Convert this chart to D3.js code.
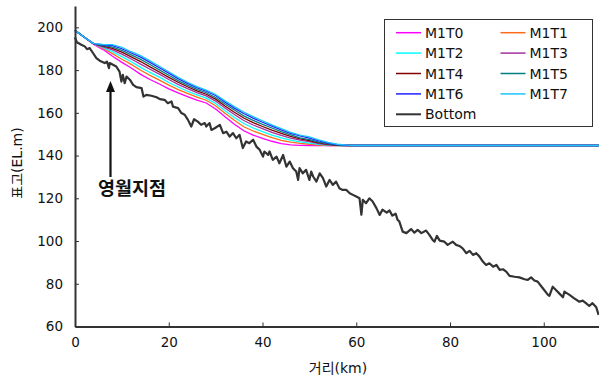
<!DOCTYPE html>
<html>
<head>
<meta charset="utf-8">
<script src="https://cdn.jsdelivr.net/npm/d3@7"></script>
<style>
  body { margin: 0; background: #fff; }
  svg { display: block; font-family: "DejaVu Sans", "Noto Sans CJK KR", sans-serif; }
</style>
</head>
<body>
<svg id="chart" width="599" height="385"></svg>
<script>
// water surface profiles, elevation (EL.m) at each station (km)
const surfKm = [0, 2, 4, 6, 8, 10, 12, 14, 16, 18, 20, 22, 24, 26, 28, 30, 32, 34, 36, 38, 40, 42, 44, 46, 48, 50, 52, 54, 56, 58, 60, 112];
const M1T0 = [198.6, 195.4, 192.0, 189.6, 186.5, 183.6, 181.0, 178.0, 175.6, 173.5, 171.2, 169.3, 167.6, 166.0, 164.6, 161.8, 158.2, 154.7, 151.6, 149.6, 148.1, 146.7, 145.6, 145.0, 144.8, 144.7, 144.7, 144.7, 144.7, 144.7, 144.7, 144.7];
const M1T1 = [198.6, 195.4, 192.1, 190.1, 187.7, 185.1, 182.7, 179.9, 177.5, 175.3, 173.0, 170.9, 169.1, 167.4, 165.9, 163.3, 159.8, 156.5, 153.5, 151.5, 149.9, 148.4, 147.1, 146.3, 145.7, 145.3, 144.9, 144.7, 144.7, 144.7, 144.7, 144.7];
const M1T2 = [198.6, 195.4, 192.2, 190.5, 188.6, 186.3, 183.9, 181.3, 178.9, 176.7, 174.2, 172.1, 170.1, 168.4, 166.9, 164.4, 161.0, 157.8, 155.0, 152.9, 151.2, 149.6, 148.3, 147.2, 146.4, 145.8, 145.2, 144.9, 144.7, 144.7, 144.7, 144.7];
const M1T3 = [198.6, 195.4, 192.2, 190.9, 189.5, 187.5, 185.2, 182.8, 180.4, 178.1, 175.6, 173.3, 171.3, 169.5, 167.9, 165.5, 162.3, 159.2, 156.4, 154.3, 152.6, 150.9, 149.5, 148.2, 147.2, 146.5, 145.6, 145.0, 144.8, 144.7, 144.7, 144.7];
const M1T4 = [198.6, 195.4, 192.3, 191.2, 190.2, 188.4, 186.2, 184.0, 181.5, 179.1, 176.6, 174.3, 172.2, 170.3, 168.7, 166.4, 163.2, 160.3, 157.6, 155.4, 153.6, 151.9, 150.4, 149.0, 147.8, 147.0, 145.9, 145.2, 144.8, 144.7, 144.7, 144.7];
const M1T5 = [198.6, 195.4, 192.3, 191.5, 190.8, 189.2, 187.1, 185.0, 182.6, 180.1, 177.6, 175.1, 173.0, 171.0, 169.4, 167.2, 164.1, 161.3, 158.6, 156.5, 154.6, 152.9, 151.2, 149.7, 148.3, 147.5, 146.3, 145.5, 145.0, 144.7, 144.7, 144.7];
const M1T6 = [198.6, 195.4, 192.4, 191.8, 191.5, 190.0, 188.0, 186.1, 183.6, 181.1, 178.6, 176.0, 173.8, 171.8, 170.1, 168.1, 165.0, 162.2, 159.7, 157.5, 155.6, 153.8, 152.0, 150.4, 149.2, 148.2, 146.9, 145.8, 145.1, 144.8, 144.7, 144.7];
const M1T7 = [198.6, 195.4, 192.4, 192.0, 191.9, 190.6, 188.6, 186.8, 184.3, 181.8, 179.2, 176.6, 174.3, 172.3, 170.6, 168.6, 165.6, 162.9, 160.4, 158.2, 156.2, 154.4, 152.6, 150.9, 149.6, 148.7, 147.4, 146.2, 145.3, 144.9, 144.7, 144.7];

// river bed profile
const bedKm = [0, 0.4, 1.35, 2.07, 2.57, 3.13, 3.84, 4.56, 5.27, 6.33, 6.82, 7.25, 7.4, 8.1, 8.8, 9.5, 9.9, 10.2, 10.6, 11.0, 11.7, 12.4, 13.1, 14.2, 14.6, 15.2, 16.3, 17.4, 18.1, 19.1, 19.8, 20.6, 20.9, 22.0, 22.7, 23.4, 24.1, 24.8, 25.4, 26.2, 26.9, 27.7, 28.0, 28.7, 29.1, 29.8, 30.9, 31.6, 32.3, 33.0, 33.7, 34.4, 35.1, 35.8, 36.5, 37.2, 38.0, 38.7, 39.4, 40.1, 40.4, 41.2, 41.5, 42.2, 43.0, 43.6, 44.4, 45.1, 45.8, 46.5, 47.2, 47.6, 47.9, 48.6, 49.3, 50.0, 50.4, 50.8, 51.5, 52.2, 52.9, 53.6, 54.3, 55.0, 55.7, 56.4, 57.1, 57.9, 58.6, 59.3, 60.0, 60.7, 61.1, 61.4, 62.1, 62.8, 63.5, 64.3, 65.0, 65.6, 66.5, 67.1, 67.7, 68.4, 68.8, 69.2, 69.9, 70.7, 71.7, 72.4, 73.1, 73.9, 74.9, 75.6, 76.3, 76.7, 77.2, 77.8, 78.8, 79.5, 80.6, 81.3, 82.0, 82.7, 83.5, 84.2, 84.9, 85.6, 86.3, 87.0, 87.7, 88.4, 89.2, 89.9, 90.6, 91.3, 92.0, 92.7, 93.8, 94.8, 95.9, 96.6, 97.3, 98.0, 98.7, 99.8, 100.9, 101.2, 101.9, 102.6, 103.3, 104.1, 104.4, 105.5, 106.5, 107.6, 108.3, 109.0, 109.7, 110.4, 111.2, 111.7];
const bedElev = [195.3, 193.0, 191.9, 191.1, 189.8, 190.3, 188.0, 185.6, 184.4, 183.3, 184.0, 180.9, 183.3, 182.5, 181.7, 179.3, 174.6, 177.8, 173.9, 177.0, 175.5, 173.1, 172.0, 171.6, 167.6, 168.4, 168.0, 167.3, 166.4, 166.1, 164.5, 165.3, 162.9, 162.2, 159.9, 159.1, 156.7, 153.6, 157.0, 155.9, 154.4, 155.2, 153.6, 155.2, 152.0, 152.8, 154.4, 150.5, 151.2, 148.9, 150.5, 148.1, 149.7, 143.5, 146.6, 145.8, 147.4, 144.2, 142.7, 139.5, 141.9, 140.3, 141.9, 138.0, 139.5, 136.4, 140.3, 134.8, 137.2, 134.1, 132.5, 128.6, 134.1, 131.7, 133.3, 128.6, 132.5, 130.2, 127.8, 131.7, 129.4, 125.5, 128.6, 126.3, 127.8, 124.7, 123.9, 123.9, 122.4, 121.6, 120.8, 120.0, 112.3, 119.3, 117.7, 120.0, 118.5, 115.4, 112.2, 114.7, 113.3, 114.3, 111.9, 112.8, 110.0, 109.1, 104.4, 103.7, 105.6, 103.9, 105.2, 103.7, 104.9, 102.9, 100.5, 99.7, 102.4, 100.2, 99.7, 98.2, 99.7, 98.2, 97.7, 96.6, 94.3, 95.4, 93.5, 94.3, 92.7, 90.4, 88.8, 89.6, 88.0, 88.8, 86.5, 86.8, 85.7, 83.7, 83.3, 83.0, 82.1, 81.8, 83.0, 81.5, 81.0, 77.9, 74.8, 74.3, 78.6, 77.1, 75.5, 73.7, 76.3, 74.8, 73.2, 71.6, 72.1, 70.9, 69.6, 70.9, 69.0, 65.4];

const seriesNames = ["M1T0", "M1T1", "M1T2", "M1T3", "M1T4", "M1T5", "M1T6", "M1T7"];
const seriesValues = [M1T0, M1T1, M1T2, M1T3, M1T4, M1T5, M1T6, M1T7];
const seriesColors = ["#ff00ff", "#ff6a1a", "#00ffff", "#a033a0", "#800000", "#008080", "#2020ff", "#1ac6ff"];

const xTicks = [0, 20, 40, 60, 80, 100];
const yTicks = [60, 80, 100, 120, 140, 160, 180, 200];

const svg = d3.select("#chart");
const ink = "#333";

const x = d3.scaleLinear().domain([0, 112]).range([75, 600]);
const y = d3.scaleLinear().domain([60, 210]).range([326.5, 6]);

const line = d3.line().x(d => x(d[0])).y(d => y(d[1]));

// bed first, water surfaces on top
svg.append("path")
  .datum(bedKm.map((k, i) => [k, bedElev[i]]))
  .attr("fill", "none")
  .attr("stroke", ink)
  .attr("stroke-width", 2.2)
  .attr("stroke-linejoin", "round")
  .attr("d", line);

seriesValues.forEach((vals, i) => {
  svg.append("path")
    .datum(surfKm.map((k, j) => [k, vals[j]]))
    .attr("fill", "none")
    .attr("stroke", seriesColors[i])
    .attr("stroke-width", 1.3)
    .attr("d", line);
});

// axes, ticks point inward
const xAxis = svg.append("g")
  .attr("transform", `translate(0,${y(60)})`)
  .call(d3.axisBottom(x).tickValues(xTicks).tickSizeInner(-4).tickSizeOuter(0).tickPadding(11));
const yAxis = svg.append("g")
  .attr("transform", `translate(${x(0)},0)`)
  .call(d3.axisLeft(y).tickValues(yTicks).tickSizeInner(-4).tickSizeOuter(0).tickPadding(12));

[xAxis, yAxis].forEach(g => {
  g.select(".domain").attr("stroke", ink).attr("stroke-width", 2);
  g.selectAll(".tick line").attr("stroke", ink).attr("stroke-width", 1);
  g.selectAll(".tick text").attr("fill", "#111").style("font-size", "13.5px").style("font-family", "DejaVu Sans");
});

svg.append("text")
  .attr("x", 338).attr("y", 373)
  .attr("text-anchor", "middle")
  .style("font-size", "14px")
  .attr("fill", "#111")
  .text("거리(km)");

svg.append("text")
  .attr("transform", "translate(22,163) rotate(-90)")
  .attr("text-anchor", "middle")
  .style("font-size", "14px")
  .attr("fill", "#111")
  .text("표고(EL.m)");

// annotation arrow
svg.append("line")
  .attr("x1", 110.5).attr("y1", 177)
  .attr("x2", 110.5).attr("y2", 90)
  .attr("stroke", "#111").attr("stroke-width", 2.2);
svg.append("path")
  .attr("d", "M110.5,81 L106,92 L115,92 Z")
  .attr("fill", "#111");
svg.append("text")
  .attr("x", 132).attr("y", 195)
  .attr("text-anchor", "middle")
  .style("font-size", "18.5px")
  .style("font-weight", "bold")
  .attr("fill", "#111")
  .text("영월지점");

// legend
const legend = svg.append("g");
legend.append("rect")
  .attr("x", 384.5).attr("y", 19.5)
  .attr("width", 208).attr("height", 107)
  .attr("fill", "#fff")
  .attr("stroke", ink).attr("stroke-width", 1);

const legendItems = seriesNames.map((n, i) => ({ name: n, color: seriesColors[i], col: i % 2, row: Math.floor(i / 2) }));
legendItems.push({ name: "Bottom", color: ink, col: 0, row: 4, bottom: true });

legendItems.forEach(d => {
  const lx = d.col === 0 ? 396 : 500.5;
  const ly = 32.7 + d.row * 20.4;
  legend.append("line")
    .attr("x1", lx).attr("x2", lx + 25)
    .attr("y1", ly).attr("y2", ly)
    .attr("stroke", d.color)
    .attr("stroke-width", d.bottom ? 2 : 1.5);
  legend.append("text")
    .attr("x", lx + 29).attr("y", ly + 5)
    .style("font-size", "14px")
    .attr("fill", "#111")
    .text(d.name);
});
</script>
</body>
</html>
